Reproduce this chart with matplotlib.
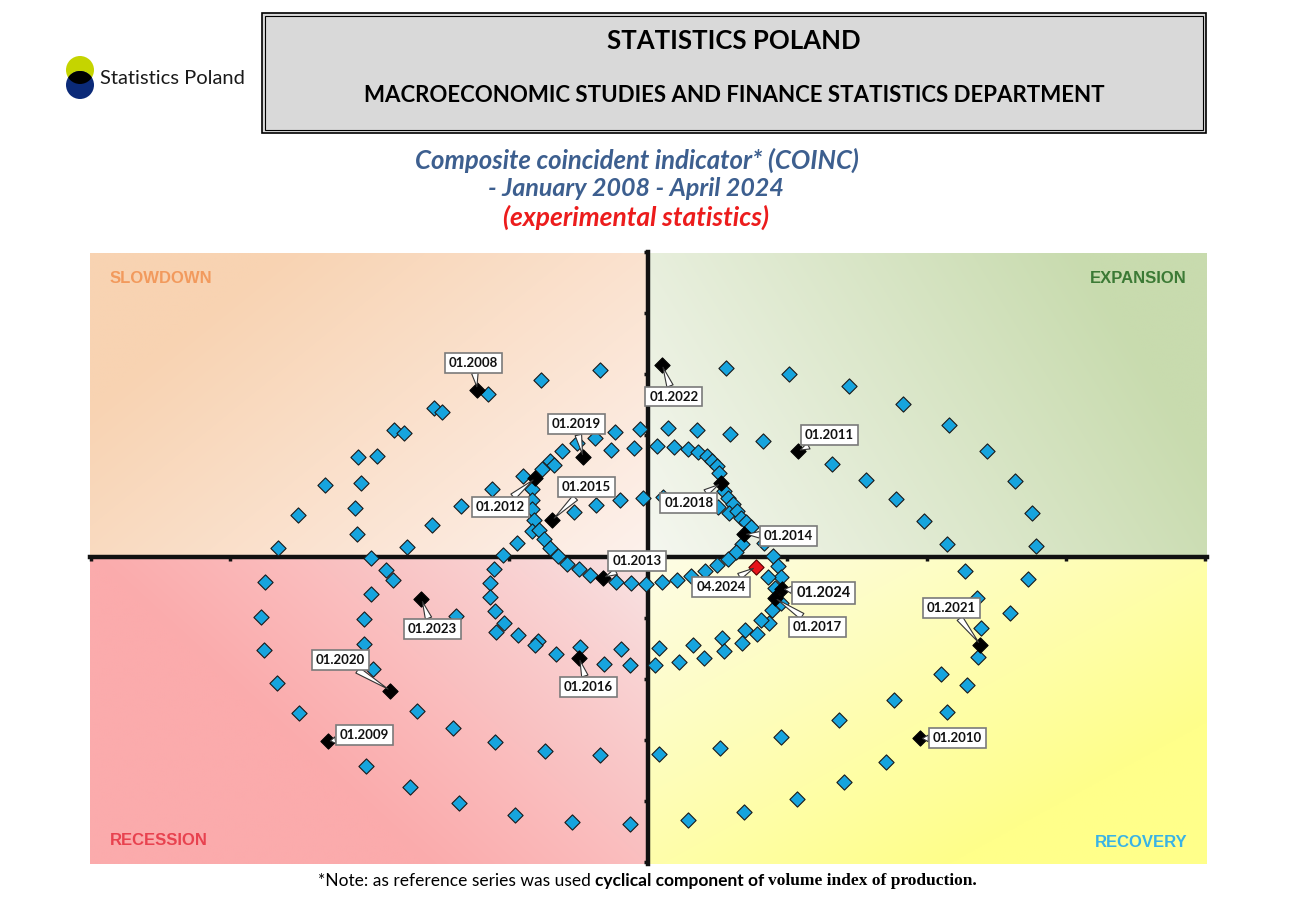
"""Composite coincident indicator (COINC) cycle clock, Statistics Poland style."""
import numpy as np
import matplotlib
matplotlib.use("Agg")
import matplotlib.pyplot as plt
from matplotlib.patches import Rectangle, Circle
from matplotlib.colors import to_rgb

W, H = 1293, 910

# --- Data: monthly position on the cycle clock (arbitrary units) ---
slowdown_x = [-160, -107, -48, -214, -206, -254, -244, -291, -271, -324, -288, -351,
              -294, -371, -292, -241, -216, -156, -187, -131, -71, -53, -33, -8,
              -37, -14, -86, -98, -94, -106, -125, -116, -116, -116, -114, -116,
              -109, -104, -98, -74, -52, -28, -5, -145, -277, -90]
slowdown_y = [164, 178, 188, 149, 145, 127, 124, 100, 101, 72, 74, 42,
              49, 9, 23, 10, 32, 68, 51, 14, 114, 119, 125, 128,
              107, 109, 106, 96, 92, 88, 81, 68, 57, 48, 37, 26,
              27, 18, 9, 45, 52, 57, 59, 2, -1, 1]

expansion_x = [78, 141, 201, 255, 302, 340, 368, 385, 389, 184, 218, 248, 276, 300,
               20, 49, 82, 115, 9, 26, 40, 50, 59, 64, 69, 71, 15, 70, 76, 80,
               85, 81, 89, 93, 98, 103, 116, 94, 88]
expansion_y = [190, 184, 172, 154, 132, 106, 76, 44, 11, 93, 77, 58, 36, 13,
               129, 127, 123, 116, 111, 110, 108, 105, 101, 96, 91, 84, 60, 50, 66, 59,
               53, 44, 46, 39, 35, 30, 14, 13, 5]

recovery_x = [14, 29, 43, 57, 69, 80, 125, 130, 133, 120, 127, 133, 124, 121, 113,
              109, 97, 94, 74, 76, 56, 45, 31, 11, 7, 318, 381, 330, 363, 334,
              331, 294, 320, 246, 300, 191, 133, 72, 11, 238, 196, 149, 96, 40]
recovery_y = [-25, -23, -19, -14, -8, -2, 1, -9, -20, -20, -31, -46, -53, -66, -63,
              -77, -73, -86, -81, -94, -101, -88, -105, -91, -108, -14, -22, -41, -56, -71,
              -100, -117, -128, -143, -156, -164, -181, -192, -198, -206, -226, -243, -256, -264]

recession_x = [-384, -388, -385, -372, -350, -262, -255, -277, -285, -285, -275, -192,
               -231, -195, -153, -103, -48, -283, -238, -189, -133, -76, -18, -154,
               -158, -158, -153, -144, -152, -130, -110, -113, -92, -68, -44, -27,
               -18, -81, -69, -58, -32, -17, -2]
recession_y = [-25, -60, -93, -126, -157, -13, -23, -37, -62, -87, -112, -59,
               -155, -172, -186, -195, -199, -210, -231, -247, -259, -266, -268, -12,
               -26, -40, -54, -66, -75, -78, -84, -88, -97, -90, -107, -92,
               -108, -7, -12, -18, -25, -26, -27]

key_months = ["01.2008", "01.2009", "01.2010", "01.2011", "01.2012", "01.2013",
              "01.2014", "01.2015", "01.2016", "01.2017", "01.2018", "01.2019",
              "01.2020", "01.2021", "01.2022", "01.2023", "01.2024"]
key_x = [-171, -321, 272, 150, -113, -45, 96, -96, -69, 127, 73, -65, -258, 333, 14, -227, 134]
key_y = [168, -185, -182, 106, 79, -21, 23, 37, -101, -41, 74, 100, -134, -88, 193, -42, -32]

last_month = "04.2024"
last_x = [108]
last_y = [-10]

# --- Layout: callout box centres ---
LABEL_POS = {
    "01.2008": (-175, 195), "01.2009": (-284, -179), "01.2010": (310, -182),
    "01.2011": (182, 122), "01.2012": (-148, 50), "01.2013": (-11, -4),
    "01.2014": (141, 21), "01.2015": (-62, 70), "01.2016": (-60, -130),
    "01.2017": (170, -70), "01.2018": (41, 54), "01.2019": (-72, 133),
    "01.2020": (-308, -103), "01.2021": (304, -51), "01.2022": (26, 161),
    "01.2023": (-216, -72), "01.2024": (176, -36), "04.2024": (73, -30),
}

XLIM = (-559, 560)
YLIM = (-308, 304)
XSTEP = 139.6
YSTEP = 61.2

BLUE = "#16a4de"
TITLE_BLUE = "#3d5f8f"
MARKER_S = 60


def quad_gradient(ax, x0, x1, y0, y1, near, far, wx, wy, gamma=1.0):
    """Fill one quadrant with a colour ramp from the origin outwards."""
    n = 240
    xs = np.linspace(x0, x1, n)
    ys = np.linspace(y0, y1, n)
    X, Y = np.meshgrid(xs, ys)
    u = np.abs(X) / max(abs(x0), abs(x1))
    v = np.abs(Y) / max(abs(y0), abs(y1))
    t = np.clip(wx * u + wy * v, 0, 1) ** gamma
    c0 = np.array(to_rgb(near))
    c1 = np.array(to_rgb(far))
    img = c0 + t[..., None] * (c1 - c0)
    ax.imshow(img, extent=(x0, x1, y0, y1), origin="lower", aspect="auto",
              interpolation="bilinear", zorder=0)


fig = plt.figure(figsize=(W / 100, H / 100), dpi=100)

# overlay in pixel coordinates for the header and notes
ov = fig.add_axes([0, 0, 1, 1], zorder=0)
ov.set_xlim(0, W)
ov.set_ylim(H, 0)
ov.axis("off")

ax = fig.add_axes([90 / W, (H - 864) / H, 1117 / W, 612 / H], zorder=1)

# quadrant backgrounds
quad_gradient(ax, XLIM[0], 0, 0, YLIM[1], "#fdf1ec", "#f8d3b2", 0.75, 0.5)
quad_gradient(ax, 0, XLIM[1], 0, YLIM[1], "#f5f7f0", "#c8dbae", 0.9, 0.3)
quad_gradient(ax, XLIM[0], 0, YLIM[0], 0, "#f8e6e6", "#fbabac", 1.0, 0.6, 0.8)
quad_gradient(ax, 0, XLIM[1], YLIM[0], 0, "#fdfce6", "#ffff8a", 0.65, 0.65)

all_x = slowdown_x + expansion_x + recovery_x + recession_x
all_y = slowdown_y + expansion_y + recovery_y + recession_y
ax.scatter(all_x, all_y, marker="D", s=MARKER_S, c=BLUE, edgecolors="#1a1a1a",
           linewidths=0.8, zorder=3)
ax.scatter(key_x, key_y, marker="D", s=MARKER_S, c="black", edgecolors="black",
           linewidths=0.8, zorder=4)
ax.scatter(last_x, last_y, marker="D", s=MARKER_S, c="#e8141b", edgecolors="#5a0000",
           linewidths=0.8, zorder=4)

labels = key_months + [last_month]
px = key_x + last_x
py = key_y + last_y
for lab, x, y in zip(labels, px, py):
    fs = 10.5 if lab == "01.2024" else 9.5
    ax.annotate(
        lab, xy=(x, y), xytext=LABEL_POS[lab], textcoords="data",
        ha="center", va="center", fontsize=fs, fontweight="bold",
        family="Lato", color="#111111", zorder=6,
        bbox=dict(boxstyle="square,pad=0.3", fc="white", ec="#7a7a7a", lw=1.2),
        arrowprops=dict(arrowstyle="wedge,tail_width=0.5,shrink_factor=0.5",
                        fc="white", ec="#333333", lw=0.8,
                        shrinkA=0, shrinkB=2),
    )

# quadrant names
qkw = dict(fontsize=12, fontweight="bold", family="Liberation Sans", va="center", zorder=5)
ax.text(XLIM[0] + 20, 279, "SLOWDOWN", ha="left", color="#f29a5d", **qkw)
ax.text(XLIM[1] - 20, 279, "EXPANSION", ha="right", color="#3c7a35", **qkw)
ax.text(XLIM[0] + 20, -284, "RECESSION", ha="left", color="#e8424f", **qkw)
ax.text(XLIM[1] - 20, -286, "RECOVERY", ha="right", color="#39b3e6", **qkw)

# axes crossing at the origin
ax.set_xlim(*XLIM)
ax.set_ylim(*YLIM)
for s in ("top", "right"):
    ax.spines[s].set_visible(False)
for s in ("left", "bottom"):
    ax.spines[s].set_position(("data", 0))
    ax.spines[s].set_linewidth(3.2)
    ax.spines[s].set_color("#111111")
    ax.spines[s].set_zorder(2)
ax.set_xticks([k * XSTEP for k in (-4, -3, -2, -1, 1, 2, 3, 4)])
ax.set_yticks([k * YSTEP for k in (-5, -4, -3, -2, -1, 1, 2, 3, 4, 5)])
ax.tick_params(direction="out", length=3, width=2.5, color="#111111",
               labelbottom=False, labelleft=False)

# --- header ---
ov.add_patch(Rectangle((262, 13), 944, 120, fc="#d9d9d9", ec="black", lw=1.2))
ov.add_patch(Rectangle((265, 16), 938, 114, fill=False, ec="black", lw=0.8))
ov.text(734, 41, "STATISTICS POLAND", ha="center", va="center",
        fontsize=18.5, fontweight="bold", family="Lato", color="black")
ov.text(734, 95, "MACROECONOMIC STUDIES AND FINANCE STATISTICS DEPARTMENT",
        ha="center", va="center", fontsize=16, fontweight="bold", family="Lato",
        color="black")

# logo
yellow = Circle((80, 70), 14, fc="#c5d400", ec="none")
navy = Circle((80, 85), 14, fc="#0b2a78", ec="none")
ov.add_patch(yellow)
ov.add_patch(navy)
overlap = Circle((80, 85), 14, fc="black", ec="none")
ov.add_patch(overlap)
overlap.set_clip_path(yellow)
ov.text(100, 79, "Statistics Poland", ha="left", va="center", fontsize=14.5,
        family="Lato", color="#1a1a1a")

# titles
tkw = dict(ha="center", va="center", fontweight="bold", style="italic", family="Lato")
ov.text(637, 160, "Composite coincident indicator* (COINC)", fontsize=18.5,
        color=TITLE_BLUE, **tkw)
ov.text(636, 188, "- January 2008 - April 2024", fontsize=18, color=TITLE_BLUE, **tkw)
ov.text(636, 217, "(experimental statistics)", fontsize=19, color="#ec1c1c", **tkw)

# footnote with mixed fonts
fig.canvas.draw()
renderer = fig.canvas.get_renderer()
pieces = [
    ("*Note: as reference series was used", dict(family="Lato")),
    ("cyclical component of", dict(family="Lato", fontweight="bold")),
    ("volume index of production.", dict(family="Liberation Serif", fontweight="bold")),
]
xpos = 318
for txt, kw in pieces:
    t = ov.text(xpos, 881, txt, ha="left", va="center", fontsize=12.5,
                color="black", **kw)
    bb = t.get_window_extent(renderer)
    xpos = bb.x1 + 4

fig.savefig("out.png", dpi=100, facecolor="white")
